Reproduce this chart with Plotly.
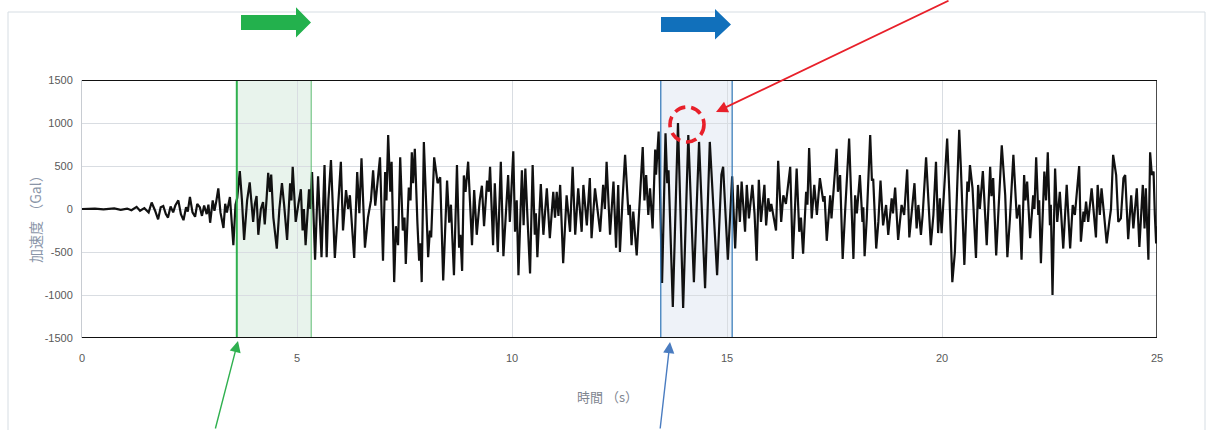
import plotly.graph_objects as go

# Acceleration record: time (s) and acceleration (Gal) at the turning points of the trace
t_s = [
    0.00, 0.30, 0.50, 0.75, 0.90, 1.05, 1.15, 1.27, 1.35, 1.45, 1.55, 1.62, 1.70, 1.77, 1.83, 1.89,
    1.95, 2.00, 2.06, 2.12, 2.17, 2.24, 2.30, 2.36, 2.42, 2.46, 2.51, 2.57, 2.63, 2.68, 2.74, 2.79,
    2.84, 2.90, 2.94, 2.98, 3.04, 3.08, 3.12, 3.17, 3.22, 3.29, 3.33, 3.37, 3.44, 3.52, 3.57, 3.61,
    3.67, 3.72, 3.77, 3.84, 3.90, 3.95, 3.98, 4.02, 4.06, 4.10, 4.16, 4.21, 4.25, 4.29, 4.33, 4.37,
    4.40, 4.45, 4.53, 4.59, 4.65, 4.70, 4.77, 4.84, 4.87, 4.90, 4.97, 5.03, 5.09, 5.13, 5.16, 5.20,
    5.28, 5.31, 5.35, 5.42, 5.49, 5.57, 5.64, 5.69, 5.73, 5.79, 5.84, 5.88, 5.94, 6.02, 6.07, 6.14,
    6.19, 6.23, 6.33, 6.40, 6.45, 6.50, 6.58, 6.65, 6.72, 6.77, 6.82, 6.93, 7.00, 7.05, 7.08, 7.12,
    7.17, 7.20, 7.26, 7.30, 7.35, 7.40, 7.46, 7.50, 7.53, 7.60, 7.64, 7.67, 7.70, 7.74, 7.80, 7.84,
    7.87, 7.90, 7.95, 8.00, 8.05, 8.09, 8.12, 8.19, 8.23, 8.27, 8.33, 8.40, 8.49, 8.54, 8.58, 8.65,
    8.72, 8.77, 8.80, 8.84, 8.88, 8.92, 8.98, 9.07, 9.12, 9.18, 9.25, 9.30, 9.35, 9.42, 9.46, 9.49,
    9.56, 9.60, 9.67, 9.74, 9.80, 9.87, 9.91, 9.95, 10.03, 10.07, 10.11, 10.15, 10.23, 10.27, 10.31, 10.36,
    10.42, 10.48, 10.53, 10.555, 10.59, 10.67, 10.73, 10.81, 10.88, 10.96, 11.00, 11.04, 11.08, 11.12, 11.19, 11.27,
    11.35, 11.41, 11.47, 11.54, 11.62, 11.66, 11.74, 11.81, 11.85, 11.93, 11.99, 12.05, 12.12, 12.16, 12.20, 12.28,
    12.36, 12.42, 12.47, 12.51, 12.57, 12.63, 12.71, 12.74, 12.78, 12.82, 12.90, 12.96, 13.04, 13.08, 13.12, 13.17,
    13.21, 13.27, 13.33, 13.35, 13.41, 13.49, 13.57, 13.61, 13.64, 13.74, 13.86, 13.98, 14.10, 14.23, 14.35, 14.49,
    14.60, 14.77, 14.87, 14.91, 15.02, 15.06, 15.12, 15.19, 15.25, 15.30, 15.34, 15.42, 15.46, 15.51, 15.59, 15.64,
    15.69, 15.74, 15.79, 15.87, 15.91, 15.96, 16.00, 16.03, 16.14, 16.19, 16.26, 16.31, 16.37, 16.47, 16.53, 16.62,
    16.68, 16.72, 16.77, 16.84, 16.87, 16.91, 16.97, 17.03, 17.09, 17.16, 17.24, 17.27, 17.32, 17.40, 17.43, 17.55,
    17.58, 17.63, 17.69, 17.75, 17.84, 17.94, 17.98, 18.02, 18.09, 18.15, 18.17, 18.20, 18.25, 18.33, 18.37, 18.40,
    18.47, 18.52, 18.57, 18.63, 18.70, 18.75, 18.83, 18.86, 18.91, 18.98, 19.06, 19.12, 19.19, 19.24, 19.30, 19.36,
    19.41, 19.45, 19.51, 19.55, 19.63, 19.68, 19.74, 19.80, 19.86, 19.91, 19.95, 19.99, 20.12, 20.17, 20.24, 20.30,
    20.40, 20.44, 20.52, 20.59, 20.62, 20.65, 20.71, 20.79, 20.84, 20.88, 20.95, 21.04, 21.12, 21.15, 21.19, 21.26,
    21.39, 21.47, 21.52, 21.58, 21.60, 21.66, 21.74, 21.80, 21.85, 21.91, 21.94, 21.98, 22.05, 22.12, 22.15, 22.19,
    22.24, 22.26, 22.30, 22.38, 22.42, 22.46, 22.51, 22.53, 22.57, 22.63, 22.68, 22.74, 22.82, 22.90, 22.98, 23.04,
    23.09, 23.19, 23.23, 23.29, 23.31, 23.35, 23.40, 23.48, 23.58, 23.62, 23.67, 23.71, 23.77, 23.83, 23.89, 23.93,
    23.98, 24.05, 24.10, 24.16, 24.22, 24.26, 24.33, 24.40, 24.45, 24.53, 24.59, 24.67, 24.71, 24.74, 24.80, 24.84,
    24.88, 24.92, 24.95, 24.98, 25.00,
]
accel_gal = [
    0, 5, -5, 8, -10, 5, -15, 25, -20, 10, -40, 75, -20, -120, 20, 35,
    -60, -100, 30, -40, 40, 100, -60, -130, 20, -30, 140, -40, -90, 60, 20, -80,
    40, -60, 50, -160, 100, -20, 80, 240, -40, -220, 60, -40, 140, -420, 50, 130,
    440, 100, -360, 100, 310, 0, -150, 60, 150, -300, 0, 80, -180, 100, 420, 200,
    400, -100, -460, 0, 300, 50, -360, 300, 100, 490, -150, 50, 230, -250, 0, -420,
    230, 0, 430, -590, 380, -560, 510, -560, 100, 570, 0, -570, -100, 550, -250, 220,
    0, 160, -570, 430, -50, 590, -450, -100, 100, 450, 40, 600, -600, 430, 100, 860,
    200, 550, -850, -200, -420, 600, -250, -100, -640, 250, 100, 660, 300, 700, -160, -600,
    -400, -850, 780, 0, -560, -250, -330, 600, 430, 300, 370, -830, 330, -160, 50, -770,
    510, -450, -300, -720, 390, 200, 550, -420, 220, -300, 100, 270, -200, 330, 200, 490,
    -420, 300, -500, 550, -550, 100, 395, -150, 670, -265, 100, -770, 450, -190, 470, -100,
    -750, 510, -300, -50, -560, 290, -300, 240, -340, 200, -100, 200, -80, 280, -630, 160,
    -265, 490, -300, 240, -265, 280, -190, 360, -340, 240, -50, -265, 280, 0, 550, -300,
    320, -450, 280, -500, 100, 630, -70, 50, -420, -30, -540, -50, 720, 100, 395, -70,
    240, -225, 690, 400, 900, -860, 880, 300, 450, -1140, 1000, -1150, 860, -850, 780, -920,
    780, -770, 400, 490, -590, -200, 380, -460, 280, -150, 320, -265, 280, -110, 280, -50,
    -600, 340, -150, 280, -190, 125, -30, 60, -250, 560, -150, 160, 60, 490, -580, 470,
    -265, -100, -520, 200, 50, 710, -110, 280, -70, 360, 85, 150, -370, 160, -110, 700,
    200, 395, -580, 0, 820, -580, 160, -50, 395, -150, 20, -550, -110, 860, 330, 350,
    -460, -150, 330, -190, 47, -300, 125, -50, 250, -360, 47, -70, 460, -330, 0, 300,
    -225, 47, -300, -70, 600, 85, -420, -70, 550, -280, 125, -280, 820, 200, -850, -500,
    920, 470, -650, 320, 200, 510, 240, -570, 280, 0, 440, -420, 490, 150, 360, -540,
    740, 160, -560, -110, 100, 630, -110, 50, -590, 395, 100, 320, -340, 160, 0, 600,
    -70, 100, -630, 435, 100, 660, -190, 50, -1000, 470, -150, 200, -460, 280, -460, 47,
    -70, 500, -380, -30, -150, 85, -150, 240, -330, 280, -70, 240, -70, -400, -150, 0,
    630, 395, -150, -110, 360, 395, -350, 160, -225, 240, -440, 280, -225, 240, -590, 660,
    395, 435, -70, -400, -200,
]

x_ticks = [0, 5, 10, 15, 20, 25]
y_ticks = [-1500, -1000, -500, 0, 500, 1000, 1500]

# highlighted time windows (s)
green_window = (3.60, 5.33)
blue_window = (13.46, 15.12)

W, H = 1208, 430
ML, MR, MT, MB = 82, 51, 80, 92
PW, PH = W - ML - MR, H - MT - MB


def px(x):
    return (x - ML) / PW


def py(y):
    return (H - MB - y) / PH


def block_arrow(x0, x1, xh, y_top, y_bot, h_top, h_bot):
    ymid = (y_top + y_bot) / 2
    pts = [(x0, y_top), (xh, y_top), (xh, h_top), (x1, ymid),
           (xh, h_bot), (xh, y_bot), (x0, y_bot)]
    return "M " + " L ".join(f"{px(a):.5f},{py(b):.5f}" for a, b in pts) + " Z"


fig = go.Figure()
fig.add_trace(go.Scatter(
    x=t_s, y=accel_gal, mode="lines",
    line=dict(color="#111111", width=2.2),
    hoverinfo="skip", showlegend=False,
))

shapes = [
    # outer chart frame
    dict(type="rect", xref="paper", yref="paper", x0=px(8), x1=px(1205), y0=py(445), y1=py(12),
         line=dict(color="#d6dde3", width=1), fillcolor="rgba(0,0,0,0)", layer="below"),
    # windows
    dict(type="rect", xref="x", yref="y", x0=green_window[0], x1=green_window[1], y0=-1500, y1=1500,
         fillcolor="#e8f3ec", line=dict(width=0), layer="below"),
    dict(type="rect", xref="x", yref="y", x0=blue_window[0], x1=blue_window[1], y0=-1500, y1=1500,
         fillcolor="#eef2f8", line=dict(width=0), layer="below"),
    dict(type="line", xref="x", yref="y", x0=green_window[0], x1=green_window[0], y0=-1500, y1=1500,
         line=dict(color="#2fb04f", width=2), layer="above"),
    dict(type="line", xref="x", yref="y", x0=green_window[1], x1=green_window[1], y0=-1500, y1=1500,
         line=dict(color="#5dbb72", width=1), layer="above"),
    dict(type="line", xref="x", yref="y", x0=blue_window[0], x1=blue_window[0], y0=-1500, y1=1500,
         line=dict(color="#2e75b6", width=1.2), layer="above"),
    dict(type="line", xref="x", yref="y", x0=blue_window[1], x1=blue_window[1], y0=-1500, y1=1500,
         line=dict(color="#2e75b6", width=1.2), layer="above"),
    # plot borders
    dict(type="line", xref="x", yref="y", x0=0, x1=25, y0=1500, y1=1500,
         line=dict(color="#111111", width=2), layer="above"),
    dict(type="line", xref="x", yref="y", x0=0, x1=25, y0=-1500, y1=-1500,
         line=dict(color="#111111", width=2), layer="above"),
    dict(type="line", xref="x", yref="y", x0=25, x1=25, y0=-1500, y1=1500,
         line=dict(color="#111111", width=1.5), layer="above"),
    # direction arrows above the windows
    dict(type="path", xref="paper", yref="paper",
         path=block_arrow(241, 311, 296, 15, 30, 7.3, 37.5),
         fillcolor="#23b14d", line=dict(width=0), layer="above"),
    dict(type="path", xref="paper", yref="paper",
         path=block_arrow(661, 731, 715, 17, 32, 9, 39.5),
         fillcolor="#1170bb", line=dict(width=0), layer="above"),
    # dashed marker around the peak
    dict(type="circle", xref="paper", yref="paper",
         x0=px(670), x1=px(704), y0=py(142), y1=py(107),
         line=dict(color="#e8202a", width=3.6, dash="11px,6px"), layer="above"),
]

annotations = [
    dict(text="時間 （s）", xref="paper", yref="paper", x=px(607), y=py(396),
         showarrow=False, xanchor="center", yanchor="middle",
         font=dict(family="Noto Sans CJK JP", size=13, color="#7f8690")),
    dict(text="加速度 （Gal）", xref="paper", yref="paper", x=px(35), y=py(216),
         showarrow=False, textangle=-90, xanchor="center", yanchor="middle",
         font=dict(family="Noto Sans CJK JP", size=14, color="#8a95a8")),
    # pointer arrows
    dict(text="", xref="paper", yref="paper", x=px(238), y=py(341),
         ax=215 - 238, ay=440 - 341, axref="pixel", ayref="pixel",
         showarrow=True, arrowhead=2, arrowsize=1.6, arrowwidth=1.4, arrowcolor="#2fb04f"),
    dict(text="", xref="paper", yref="paper", x=px(670), y=py(342),
         ax=660 - 670, ay=440 - 342, axref="pixel", ayref="pixel",
         showarrow=True, arrowhead=2, arrowsize=1.6, arrowwidth=1.4, arrowcolor="#4a7cc0"),
    dict(text="", xref="paper", yref="paper", x=px(716), y=py(112),
         ax=950 - 716, ay=-10 - 112, axref="pixel", ayref="pixel",
         showarrow=True, arrowhead=2, arrowsize=1.3, arrowwidth=1.8, arrowcolor="#e8202a"),
]

fig.update_layout(
    width=W, height=H,
    margin=dict(l=ML, r=MR, t=MT, b=MB, pad=0),
    paper_bgcolor="white", plot_bgcolor="white",
    shapes=shapes, annotations=annotations,
    showlegend=False, hovermode=False,
    font=dict(family="Liberation Sans", size=11, color="#595959"),
    xaxis=dict(range=[0, 25], tickvals=x_ticks, ticktext=[str(v) for v in x_ticks],
               showgrid=True, gridcolor="#d9dde2", gridwidth=1, zeroline=False,
               showline=False, ticks="", ticklabelstandoff=12,
               tickfont=dict(size=11, color="#595959")),
    yaxis=dict(range=[-1500, 1500], tickvals=y_ticks, ticktext=[str(v) for v in y_ticks],
               showgrid=True, gridcolor="#d9dde2", gridwidth=1, zeroline=False,
               showline=True, linecolor="#c8ccd2", linewidth=1, ticks="", ticklabelstandoff=6,
               tickfont=dict(size=11, color="#595959")),
)

fig.write_html("out.html")
